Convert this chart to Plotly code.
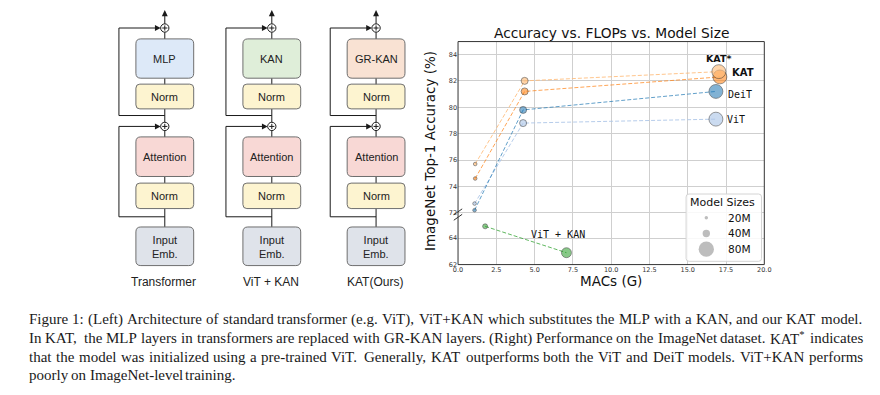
import plotly.graph_objects as go

# ---------------- data ----------------
series_names = ["KAT*", "KAT", "DeiT", "ViT"]
kat_star_macs = [1.12, 4.35, 17.03]
kat_star_acc = [75.7, 82.0, 82.7]
kat_macs = [1.12, 4.35, 17.10]
kat_acc = [74.6, 81.2, 82.3]
deit_macs = [1.08, 4.25, 16.84]
deit_acc = [72.2, 79.8, 81.2]
vit_macs = [1.08, 4.25, 16.84]
vit_acc = [72.7, 78.8, 79.1]
model_params = [5.7, 22, 86]          # tiny / small / base (M)
vitkan_macs = [1.77, 7.08]
vitkan_acc = [64.9, 62.9]
vitkan_params = [11, 44]

legend_sizes = [20, 40, 80]
legend_labels = ["20M", "40M", "80M"]
x_ticks = [0, 2.5, 5, 7.5, 10, 12.5, 15, 17.5, 20]
y_ticks_low = [62, 64]
y_ticks_high = [72, 74, 76, 78, 80, 82, 84]

arch_titles = ["Transformer", "ViT + KAN", "KAT(Ours)"]
ffn_names = ["MLP", "KAN", "GR-KAN"]

caption_lines = [
    "Figure 1: (Left) Architecture of standard transformer (e.g. ViT), ViT+KAN which substitutes the MLP with a KAN, and our KAT model.",
    "In KAT, the MLP layers in transformers are replaced with GR-KAN layers. (Right) Performance on the ImageNet dataset. KAT* indicates",
    "that the model was initialized using a pre-trained ViT. Generally, KAT outperforms both the ViT and DeiT models. ViT+KAN performs",
    "poorly on ImageNet-level training.",
]

# ---------------- helpers ----------------
W, H = 880, 395


def px(x):
    return x / W


def py(y):
    return 1 - y / H


shapes = []
annotations = []


def seg(x0, y0, x1, y1, color="#1a1a1a", width=1.0):
    shapes.append(dict(type="line", xref="paper", yref="paper",
                       x0=px(x0), y0=py(y0), x1=px(x1), y1=py(y1),
                       line=dict(color=color, width=width)))


def poly(points, fill, color=None, width=0):
    d = "M " + " L ".join(f"{px(a):.5f},{py(b):.5f}" for a, b in points) + " Z"
    shapes.append(dict(type="path", xref="paper", yref="paper", path=d,
                       fillcolor=fill, line=dict(color=color or fill, width=width)))


def rrect(x0, y0, x1, y1, r, fill, border, width=1.0):
    P = lambda a, b: f"{px(a):.5f},{py(b):.5f}"
    d = (f"M {P(x0 + r, y0)} L {P(x1 - r, y0)} Q {P(x1, y0)} {P(x1, y0 + r)} "
         f"L {P(x1, y1 - r)} Q {P(x1, y1)} {P(x1 - r, y1)} "
         f"L {P(x0 + r, y1)} Q {P(x0, y1)} {P(x0, y1 - r)} "
         f"L {P(x0, y0 + r)} Q {P(x0, y0)} {P(x0 + r, y0)} Z")
    shapes.append(dict(type="path", xref="paper", yref="paper", path=d,
                       fillcolor=fill, line=dict(color=border, width=width)))


def circ(cx, cy, r, fill, border=None, width=0):
    shapes.append(dict(type="circle", xref="paper", yref="paper",
                       x0=px(cx - r), x1=px(cx + r), y0=py(cy + r), y1=py(cy - r),
                       fillcolor=fill, line=dict(color=border or fill, width=width)))


def text(x, y, s, size, family, color="#222", xanchor="center", angle=0, yanchor="middle"):
    annotations.append(dict(x=px(x), y=py(y), xref="paper", yref="paper", text=s,
                            showarrow=False, xanchor=xanchor, yanchor=yanchor,
                            textangle=angle, borderpad=0,
                            font=dict(size=size, family=family, color=color)))


# ---------------- architecture diagram ----------------
col_cx = [162.0, 270.5, 376.2]
ffn_fill = ["#dde9f8", "#dfeed9", "#f9e2d3"]
norm_fill = "#fdf4d0"
attn_fill = "#f8d8d5"
emb_fill = "#dfe3ea"
box_border = "#6e6e6e"
hw = 29.3
sans = "Liberation Sans, Arial, sans-serif"

for i, cx in enumerate(col_cx):
    lx = cx - 46.5
    # main vertical line and top arrow
    seg(cx, 229.3, cx, 16)
    poly([(cx, 10), (cx - 3, 16.5), (cx + 3, 16.5)], "#1a1a1a")
    # skip connections
    for yb, yp in [(116.7, 28.3), (219.0, 127.7)]:
        seg(cx, yb, lx, yb)
        seg(lx, yb, lx, yp)
        seg(lx, yp, cx - 9, yp)
        poly([(cx - 4.2, yp), (cx - 10, yp - 3), (cx - 10, yp + 3)], "#1a1a1a")
    # boxes
    rrect(cx - hw, 39.3, cx + hw, 79.0, 5, ffn_fill[i], box_border)
    rrect(cx - hw, 85.0, cx + hw, 110.0, 4, norm_fill, box_border)
    rrect(cx - hw, 138.3, cx + hw, 178.3, 5, attn_fill, box_border)
    rrect(cx - hw, 185.0, cx + hw, 210.7, 4, norm_fill, box_border)
    rrect(cx - hw, 229.3, cx + hw, 268.3, 5, emb_fill, box_border)
    # plus circles
    for yp in [28.3, 127.7]:
        circ(cx, yp, 4.2, "white", "#1a1a1a", 1)
        seg(cx - 2.6, yp, cx + 2.6, yp, width=1)
        seg(cx, yp - 2.6, cx, yp + 2.6, width=1)
    # texts
    text(cx, 59.5, ffn_names[i], 11, sans)
    text(cx, 97.5, "Norm", 11, sans)
    text(cx, 158.5, "Attention", 11, sans)
    text(cx, 198, "Norm", 11, sans)
    text(cx, 250, "Input<br>Emb.", 11, sans)
    text(cx - 1, 285, arch_titles[i], 12, sans)

# ---------------- chart ----------------
L_, R_, T_, B_ = 459.3, 769.8, 42.0, 267.3
SPLIT = 220.5
PXU = 13.33
low_top = 62 + (B_ - SPLIT) / PXU
high_bot = 72 - (SPLIT - 215.0) / PXU
high_top = 72 + (215.0 - T_) / PXU

dv = "DejaVu Sans, sans-serif"
mono = "DejaVu Sans Mono, monospace"


def msize(params):
    return [1.5 * p ** 0.5 for p in params]


fig = go.Figure()

series = [
    ("KAT*", kat_star_macs, kat_star_acc, "rgba(255,187,120,0.9)", "rgba(255,187,120,0.85)"),
    ("KAT", kat_macs, kat_acc, "rgba(255,127,14,0.8)", "rgba(255,127,14,0.7)"),
    ("DeiT", deit_macs, deit_acc, "rgba(31,119,180,0.8)", "rgba(31,119,180,0.7)"),
    ("ViT", vit_macs, vit_acc, "rgba(174,199,232,0.9)", "rgba(174,199,232,0.9)"),
]
for name, xs, ys, mc, lc in series[::-1]:
    fig.add_trace(go.Scatter(
        x=xs, y=ys, name=name, mode="lines+markers", xaxis="x2", yaxis="y2",
        line=dict(color=lc, width=1, dash="4px,2px"),
        marker=dict(size=msize(model_params), color=mc,
                    line=dict(color="rgba(30,30,30,0.8)", width=0.8)),
        showlegend=False, cliponaxis=False))

fig.add_trace(go.Scatter(
    x=vitkan_macs, y=vitkan_acc, name="ViT + KAN", mode="lines+markers",
    xaxis="x", yaxis="y",
    line=dict(color="rgba(44,160,44,0.75)", width=1, dash="4px,2px"),
    marker=dict(size=msize(vitkan_params), color="rgba(44,160,44,0.8)",
                line=dict(color="rgba(30,30,30,0.8)", width=0.8)),
    showlegend=False, cliponaxis=False))


# labels tied to data
def dlabel(x, y, s, yref, family, bold=False, xanchor="left", size=10):
    annotations.append(dict(x=x, y=y, xref="x", yref=yref, text=f"<b>{s}</b>" if bold else s,
                            showarrow=False, xanchor=xanchor, yanchor="middle", borderpad=0,
                            font=dict(size=size, family=family, color="#111")))


dlabel(17.0, 83.68, "KAT*", "y2", dv, True, "center", 9.5)
dlabel(17.85, 82.63, "KAT", "y2", dv, True, "left", 10)
dlabel(17.55, 80.93, "DeiT", "y2", mono, False, "left", 10)
dlabel(17.5, 79.07, "ViT", "y2", mono, False, "left", 10)
dlabel(4.72, 64.25, "ViT + KAN", "y", mono, False, "left", 10)

grid = dict(showgrid=True, gridcolor="#cfcfcf", gridwidth=1, zeroline=False,
            showline=False, ticks="", tickfont=dict(size=6.5, family=dv, color="#333"))

fig.update_layout(
    xaxis=dict(domain=[px(L_), px(R_)], range=[0, 20], anchor="y",
               tickvals=x_ticks, ticktext=[f"{v:.1f}" for v in x_ticks], **grid),
    xaxis2=dict(domain=[px(L_), px(R_)], range=[0, 20], anchor="y2", matches="x",
                tickvals=x_ticks, showticklabels=False, **grid),
    yaxis=dict(domain=[py(B_), py(SPLIT)], range=[62, low_top], anchor="x",
               tickvals=y_ticks_low, **grid),
    yaxis2=dict(domain=[py(SPLIT), py(T_)], range=[high_bot, high_top], anchor="x2",
                tickvals=y_ticks_high, **grid),
)

# frame and break marks
shapes.append(dict(type="rect", xref="paper", yref="paper", x0=px(L_), x1=px(R_),
                   y0=py(B_), y1=py(T_), line=dict(color="#333", width=1), fillcolor="rgba(0,0,0,0)"))
seg(455, 217, 463.5, 211, "#333", 1)
seg(455, 222.5, 463.5, 216.5, "#333", 1)

# titles
text(614.7, 33, "Accuracy vs. FLOPs vs. Model Size", 13.8, dv, "#111")
text(614.5, 284, "MACs (G)", 13.5, dv, "#111")
text(431.5, 153, "ImageNet Top-1 Accuracy (%)", 13.5, dv, "#111", angle=-90)

# size legend
rrect(690.5, 196, 767, 264, 3, "rgba(255,255,255,0.85)", "#d4d4d4", 1)
text(727.5, 204.5, "Model Sizes", 11, dv, "#111")
for k, (sz, lab) in enumerate(zip(legend_sizes, legend_labels)):
    yy = 220 + k * 15.85
    circ(711, yy, (sz / 5 - 0.5) / 2, "#bdbdbd")
    text(731.5, yy, lab, 10.6, dv, "#111", xanchor="left")

# ---------------- caption (justified) ----------------
TW = dict(zip("abcdefghijklmnopqrstuvwxyz",
              [444, 500, 444, 500, 444, 333, 500, 500, 278, 278, 500, 278, 778, 500, 500, 500,
               500, 333, 389, 278, 500, 500, 722, 500, 500, 444]))
TW.update(dict(zip("ABCDEFGHIJKLMNOPQRSTUVWXYZ",
                   [722, 667, 667, 722, 611, 556, 722, 722, 333, 389, 722, 611, 889, 722, 722, 556,
                    722, 667, 556, 611, 722, 722, 944, 722, 722, 611])))
TW.update({" ": 250, ".": 250, ",": 250, ":": 278, "(": 333, ")": 333, "+": 564, "-": 333, "*": 350})
for d in "0123456789":
    TW[d] = 500

CAP_SIZE = 15
CAP_L, CAP_R = 23.0, 868.0
cap_y = [322.7, 341.7, 360.7, 379.0]
serif = "Liberation Serif, Times New Roman, serif"


def wwidth(s):
    return sum(TW.get(c, 500) for c in s) / 1000 * CAP_SIZE


for li, (line_txt, yy) in enumerate(zip(caption_lines, cap_y)):
    words = line_txt.split(" ")
    widths = [wwidth(w) for w in words]
    if li < len(caption_lines) - 1:
        gap = (CAP_R - CAP_L - sum(widths)) / (len(words) - 1)
    else:
        gap = wwidth(" ")
    x = CAP_L
    for w, wd in zip(words, widths):
        disp = w.replace("KAT*", "KAT<sup>*</sup>")
        text(x, yy, disp, CAP_SIZE, serif, "#1a1a1a", xanchor="left")
        x += wd + gap

fig.update_layout(
    width=W, height=H, margin=dict(l=0, r=0, t=0, b=0),
    paper_bgcolor="white", plot_bgcolor="white",
    shapes=shapes, annotations=annotations, showlegend=False,
)

fig.write_html("out.html", include_plotlyjs=True, config={"displayModeBar": False},
               post_script="document.body.style.margin='0';document.body.style.overflow='hidden';")
